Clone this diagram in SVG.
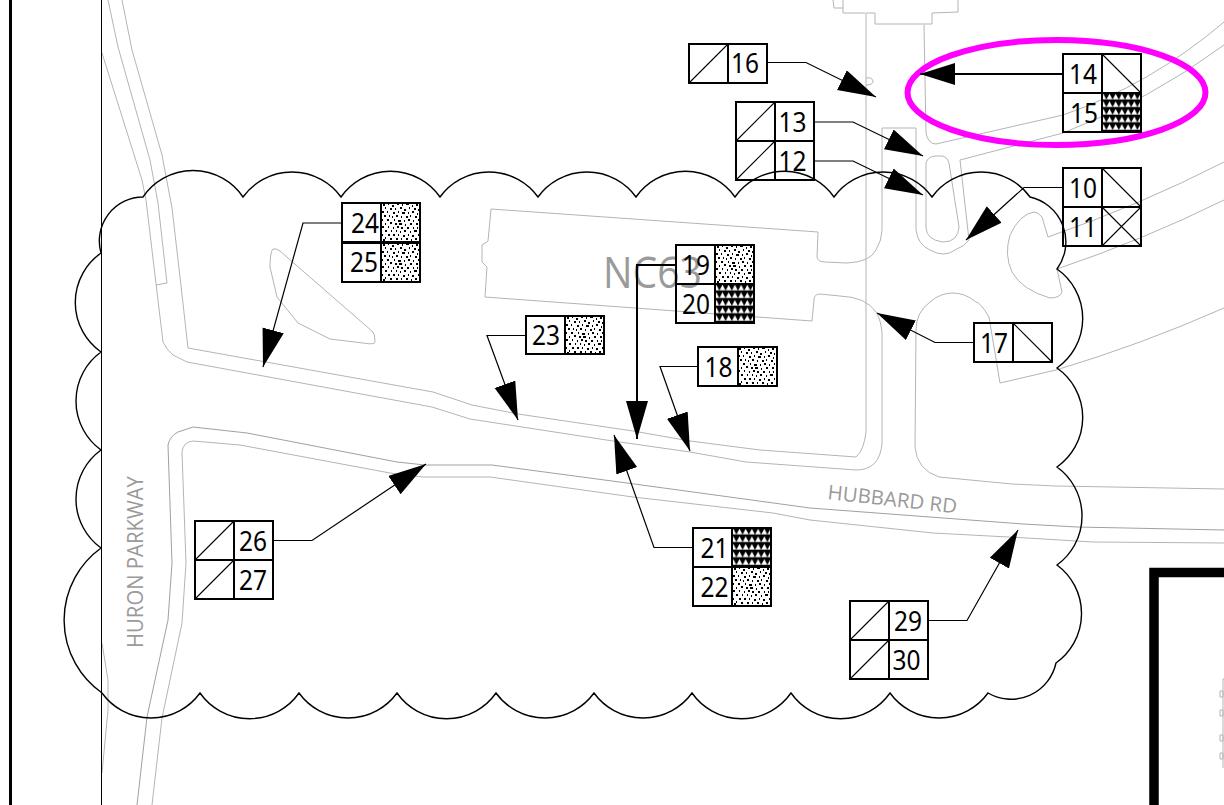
<svg xmlns="http://www.w3.org/2000/svg" width="1224" height="805" viewBox="0 0 1224 805">
<style>
.bg{fill:#fff}
.g{fill:none;stroke:#b4b4b4;stroke-width:1;stroke-linejoin:round}
.gd{fill:none;stroke:#a0a0a0;stroke-width:1;stroke-linejoin:round}
.cloud{fill:none;stroke:#000;stroke-width:1.4}
.box{fill:none;stroke:#000;stroke-width:2}
.dia{fill:none;stroke:#000;stroke-width:1.1}
.con{fill:none;stroke:#000;stroke-width:1.2;stroke-linejoin:miter}
.con2{fill:none;stroke:#000;stroke-width:2}
.n{font-family:"Noto Sans",sans-serif;font-size:28px;fill:#000;text-anchor:middle}
.road{font-family:"Open Sans",sans-serif;fill:#9a9a9a}
.speck{fill:url(#speck)}
.tri{fill:url(#tri)}
</style>
<defs>
<marker id="a" markerUnits="userSpaceOnUse" markerWidth="40" markerHeight="24" refX="38" refY="11" orient="auto"><path d="M0 0L38 11L0 22z" fill="#000"/></marker>
<marker id="as" markerUnits="userSpaceOnUse" markerWidth="37" markerHeight="24" refX="35" refY="11" orient="auto"><path d="M0 0L35 11L0 22z" fill="#000"/></marker>
<pattern id="speck" patternUnits="userSpaceOnUse" width="39" height="39">
<rect width="39" height="39" fill="#fff"/>
<path stroke="#000" stroke-width="2" fill="none" d="M2 2h2M7 1h1M11 3h2M16 1h2M21 2h1M25 1h3M31 3h1M35 2h2M4 5h1M9 6h2M14 6h1M19 5h2M23 7h2M28 5h1M33 6h2M37 7h1M1 9h2M6 9h1M12 10h2M17 9h1M21 10h3M27 10h1M31 9h2M36 11h1M3 13h2M8 13h1M11 14h1M15 13h2M20 14h1M25 14h2M29 13h1M34 14h2M1 17h1M6 17h2M13 17h1M17 18h3M23 18h1M27 17h2M32 18h1M37 17h1M4 21h1M9 20h2M14 21h2M18 21h3M24 22h1M29 21h2M35 21h2M1 24h2M7 24h1M12 25h1M16 24h2M20 25h2M26 25h2M32 25h1M36 25h1M4 28h2M10 28h1M15 28h1M19 29h1M23 28h2M29 29h1M33 28h3M1 32h1M7 32h2M12 32h2M17 32h1M22 33h2M27 32h1M31 33h2M37 32h1M4 35h1M9 36h2M15 36h2M20 36h1M25 36h2M30 37h1M34 36h2M2 37h2"/>
</pattern>
<pattern id="tri" patternUnits="userSpaceOnUse" width="6.2" height="7.6">
<rect width="6.2" height="7.6" fill="#000"/>
<path d="M3.1 .8L6.1 6.4H.1z" fill="#fff"/>
</pattern>
</defs>
<rect class="bg" width="1224" height="805"/>

<g id="linework">
<path class="g" d="M108 0L118 47L150 160L158 203L167 283L156 285"/>
<path class="g" d="M122 0L132 50L162 155L172 208L180 277L188 348L433 392L472 405L518 414L633 431L690 441L760 450L856 457Q864 450 866 432L866 13H875V24H932V13L958 12V0"/>
<path class="g" d="M102 53L142 180L146 200L163 342Q167 350 173 355L187 362L432 407L470 419L613 441L690 452L746 462L856 470Q880 470 882 443V333Q881 320 876 312Q866 297 840 296L820 294Q814 294 814 300L812 321L485 297L487 267L482 262V245L488 241L491 209L818 232L817 257Q818 262 825 262L847 263Q870 262 876 250Q882 240 882 230V128H916V230Q918 245 930 250Q944 258 955 250Q965 246 969 240L960 160L1063 133Q1150 100 1224 45"/>
<path class="g" d="M924 25L926 133Q928 144 936 144L1063 115Q1150 85 1224 22"/>
<path class="g" d="M926 163Q928 156 936 156H941Q947 156 949 163L959 227Q958 242 943 242Q926 240 926 227z"/>
<path class="g" d="M1224 162Q1140 205 1048 237L1042 217Q1038 212 1034 212Q1020 214 1010 235Q1004 255 1012 272Q1022 290 1050 298Q1060 298 1062 292L1057 269Q1143 240 1224 200"/>
<path class="g" d="M1224 308Q1140 345 1056 370L1000 383L989 317Q980 302 976 302Q965 293 953 293Q940 293 930 302Q916 312 916 330L915 447Q917 470 939 477L1012 484L1056 486L1224 489"/>
<path class="gd" d="M810 508L1023 524L1077 527L1224 530"/>
<path class="g" d="M810 520L933 533L1027 538L1093 542L1224 543"/>
<path class="gd" d="M137 805L147 717L168 620L172 563L168 445Q170 436 178 432L193 427L247 433L397 462L425 465H492L627 483L810 508"/>
<path class="g" d="M152 805L162 718L182 623L186 563L182 452Q183 442 193 441L240 445L390 473L423 477H490L633 497L773 513L810 520"/>
<path class="g" d="M102 643L108 680V710L102 773"/>
<path class="g" d="M273 249Q270 252 270 267L277 297L298 323L330 339L363 343Q375 345 375 342Q375 335 373 332L280 251Q276 248 273 249z"/>
<path class="g" d="M865 13H843V8H834L833 0M843 8V0"/>
<path class="g" d="M866 78Q872 77 873 81Q873 85 866 85"/>
<path class="g" d="M1223 679H1224M1223 679V768M1220 691h3v6h-3zM1220 710h3v6h-3zM1220 735h3v6h-3zM1220 753h3v6h-3z"/>
<text class="road" x="603" y="288" font-size="44" textLength="99" lengthAdjust="spacingAndGlyphs" fill="#8f8f8f">NC63</text>
<text class="road" font-size="20" textLength="130" lengthAdjust="spacingAndGlyphs" transform="translate(827 499) rotate(6.3)">HUBBARD RD</text>
<text class="road" font-size="21" textLength="172" lengthAdjust="spacingAndGlyphs" transform="translate(143 648) rotate(-90)">HURON PARKWAY</text>
</g>

<g id="frame">
<rect x="9" y="0" width="3" height="805" fill="#000"/>
<path d="M101.5 0V805" stroke="#000" stroke-width="1" fill="none"/>
<path d="M1224 572.500H1154V805" fill="none" stroke="#000" stroke-width="9.500"/>
</g>

<path id="cloud" class="cloud" d="M143 197A60.500 60.500 0 0 1 243 197A60.500 60.500 0 0 1 341 197A60.500 60.500 0 0 1 440 197A60.500 60.500 0 0 1 538 197A60.500 60.500 0 0 1 636 197A60.500 60.500 0 0 1 735 197A60.500 60.500 0 0 1 834 197A60.500 60.500 0 0 1 932 197A60.500 60.500 0 0 1 1030 197A46 46 0 0 1 1057 269A60.500 60.500 0 0 1 1057 368A60.500 60.500 0 0 1 1057 467A60.500 60.500 0 0 1 1057 565A60.500 60.500 0 0 1 1056 663A46 46 0 0 1 988 693A60.500 60.500 0 0 1 890 693A60.500 60.500 0 0 1 791 693A60.500 60.500 0 0 1 692 693A60.500 60.500 0 0 1 594 693A60.500 60.500 0 0 1 496 693A60.500 60.500 0 0 1 397 693A60.500 60.500 0 0 1 299 693A60.500 60.500 0 0 1 200 693A60.500 60.500 0 0 1 102 693A89 89 0 0 1 101 548A60.500 60.500 0 0 1 101 450A60.500 60.500 0 0 1 101 352A60.500 60.500 0 0 1 101 253A44 44 0 0 1 143 197z"/>

<ellipse id="highlight" cx="1056.500" cy="92.500" rx="149" ry="52.500" fill="none" stroke="#ff00ff" stroke-width="6"/>

<g id="connectors">
<polyline class="con" marker-end="url(#a)" points="767,62.500 806,62.500 876,97"/>
<polyline class="con2" marker-end="url(#as)" points="1063,74 920,74"/>
<polyline class="con" marker-end="url(#a)" points="814,122 853,122 923,156"/>
<polyline class="con" marker-end="url(#a)" points="814,161 853,161 923,195"/>
<polyline class="con" marker-end="url(#a)" points="1063,187.500 1024,187.500 966,240"/>
<polyline class="con" marker-end="url(#a)" points="974,342.500 935,342.500 877,313"/>
<polyline class="con" marker-end="url(#a)" points="342,223 303,223 263,367"/>
<polyline class="con" marker-end="url(#a)" points="526,335.500 487,335.500 518,420"/>
<polyline class="con" marker-end="url(#a)" points="698,366.500 660,366.500 690,451"/>
<polyline class="con2" marker-end="url(#a)" points="676,265 637,265 637,439"/>
<polyline class="con" marker-end="url(#a)" points="693,547.500 654,547.500 614,435"/>
<polyline class="con" marker-end="url(#a)" points="273,540.500 312,540.500 426,464"/>
<polyline class="con" marker-end="url(#a)" points="928,620.500 967,620.500 1018,530"/>
</g>

<g id="node-16" transform="translate(689 44)"><path class="dia" d="M0 39L39 0"/><rect class="box" width="78" height="39"/><path class="box" d="M39 0V39"/><text class="n" x="56" y="29" textLength="28" lengthAdjust="spacingAndGlyphs">16</text></g>
<g id="node-13" transform="translate(736 102)"><path class="dia" d="M0 39L39 0"/><rect class="box" width="78" height="39"/><path class="box" d="M39 0V39"/><text class="n" x="56.500" y="30" textLength="28" lengthAdjust="spacingAndGlyphs">13</text></g>
<g id="node-12" transform="translate(736 141)"><path class="dia" d="M0 39L39 0"/><rect class="box" width="78" height="39"/><path class="box" d="M39 0V39"/><text class="n" x="56.500" y="30" textLength="28" lengthAdjust="spacingAndGlyphs">12</text></g>
<g id="node-14" transform="translate(1063 54)"><path class="dia" d="M39 0L78 39"/><rect class="box" width="78" height="39"/><path class="box" d="M39 0V39"/><text class="n" x="20" y="30" textLength="28" lengthAdjust="spacingAndGlyphs">14</text></g>
<g id="node-15" transform="translate(1063 93)"><rect class="tri" x="39" width="39" height="39"/><rect class="box" width="78" height="39"/><path class="box" d="M39 0V39"/><text class="n" x="21" y="30" textLength="28" lengthAdjust="spacingAndGlyphs">15</text></g>
<g id="node-10" transform="translate(1063 168)"><path class="dia" d="M39 0L78 39"/><rect class="box" width="78" height="39"/><path class="box" d="M39 0V39"/><text class="n" x="20" y="30" textLength="28" lengthAdjust="spacingAndGlyphs">10</text></g>
<g id="node-11" transform="translate(1063 207)"><path class="dia" d="M39 0L78 39M39 39L78 0"/><rect class="box" width="78" height="39"/><path class="box" d="M39 0V39"/><text class="n" x="20" y="30" textLength="28" lengthAdjust="spacingAndGlyphs">11</text></g>
<g id="node-24" transform="translate(342 203)"><rect class="speck" x="39" width="39" height="39"/><rect class="box" width="78" height="39"/><path class="box" d="M39 0V39"/><text class="n" x="23" y="30" textLength="28" lengthAdjust="spacingAndGlyphs">24</text></g>
<g id="node-25" transform="translate(342 243)"><rect class="speck" x="39" width="39" height="39"/><rect class="box" width="78" height="39"/><path class="box" d="M39 0V39"/><text class="n" x="22" y="29" textLength="28" lengthAdjust="spacingAndGlyphs">25</text></g>
<g id="node-19" transform="translate(676 245)"><rect class="speck" x="39" width="39" height="39"/><rect class="box" width="78" height="39"/><path class="box" d="M39 0V39"/><text class="n" x="20" y="30" textLength="28" lengthAdjust="spacingAndGlyphs">19</text></g>
<g id="node-20" transform="translate(676 284)"><rect class="tri" x="39" width="39" height="39"/><rect class="box" width="78" height="39"/><path class="box" d="M39 0V39"/><text class="n" x="20" y="30" textLength="28" lengthAdjust="spacingAndGlyphs">20</text></g>
<g id="node-23" transform="translate(526 316)"><rect class="speck" x="39" width="39" height="39"/><rect class="box" width="78" height="38"/><path class="box" d="M39 0V38"/><text class="n" x="20" y="29" textLength="28" lengthAdjust="spacingAndGlyphs">23</text></g>
<g id="node-18" transform="translate(698 347)"><rect class="speck" x="40" width="39" height="39"/><rect class="box" width="79" height="39"/><path class="box" d="M40 0V39"/><text class="n" x="20.500" y="30" textLength="28" lengthAdjust="spacingAndGlyphs">18</text></g>
<g id="node-17" transform="translate(974 323)"><path class="dia" d="M39 0L78 39"/><rect class="box" width="78" height="39"/><path class="box" d="M39 0V39"/><text class="n" x="20" y="30" textLength="28" lengthAdjust="spacingAndGlyphs">17</text></g>
<g id="node-21" transform="translate(693 528)"><rect class="tri" x="39" width="39" height="39"/><rect class="box" width="78" height="39"/><path class="box" d="M39 0V39"/><text class="n" x="21.500" y="30" textLength="28" lengthAdjust="spacingAndGlyphs">21</text></g>
<g id="node-22" transform="translate(693 567)"><rect class="speck" x="39" width="39" height="39"/><rect class="box" width="78" height="39"/><path class="box" d="M39 0V39"/><text class="n" x="21.500" y="30" textLength="28" lengthAdjust="spacingAndGlyphs">22</text></g>
<g id="node-26" transform="translate(195 521)"><path class="dia" d="M0 39L39 0"/><rect class="box" width="78" height="39"/><path class="box" d="M39 0V39"/><text class="n" x="58" y="30" textLength="28" lengthAdjust="spacingAndGlyphs">26</text></g>
<g id="node-27" transform="translate(195 560)"><path class="dia" d="M0 39L39 0"/><rect class="box" width="78" height="39"/><path class="box" d="M39 0V39"/><text class="n" x="58" y="30" textLength="28" lengthAdjust="spacingAndGlyphs">27</text></g>
<g id="node-29" transform="translate(850 601)"><path class="dia" d="M0 39L39 0"/><rect class="box" width="78" height="39"/><path class="box" d="M39 0V39"/><text class="n" x="58" y="30" textLength="28" lengthAdjust="spacingAndGlyphs">29</text></g>
<g id="node-30" transform="translate(850 640)"><path class="dia" d="M0 39L39 0"/><rect class="box" width="78" height="39"/><path class="box" d="M39 0V39"/><text class="n" x="56.500" y="30" textLength="28" lengthAdjust="spacingAndGlyphs">30</text></g>
</svg>
